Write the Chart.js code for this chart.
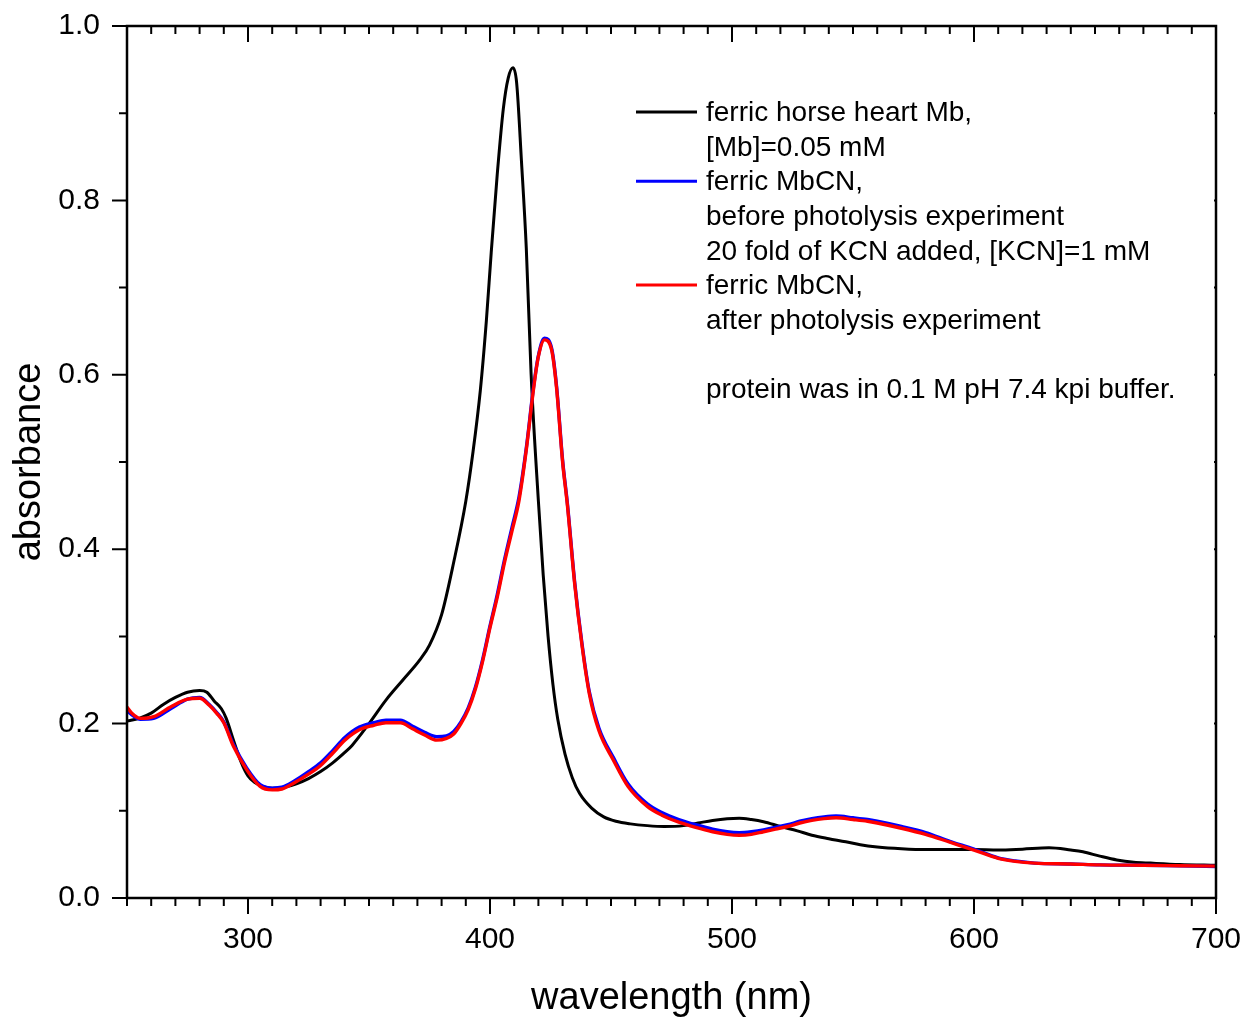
<!DOCTYPE html>
<html>
<head>
<meta charset="utf-8">
<script src="https://cdn.jsdelivr.net/npm/chart.js@4.4.1/dist/chart.umd.min.js"></script>
<style>
  html, body {margin: 0; padding: 0; background: #fff;}
  canvas {display: block;}
</style>
</head>
<body>
<canvas id="grafico" width="1246" height="1018"></canvas>
<script>
// ferric horse heart Mb
const wlMb = [250, 255, 260, 265, 270, 275, 280, 283, 286, 289, 291, 294, 297, 300, 303, 306, 310, 315, 320, 325, 330, 335, 340, 343, 350, 357, 364, 371, 375, 380, 385, 390, 393, 396, 398.5, 400.5, 403, 405.5, 407.5, 409.5, 411, 413, 415, 417, 420, 422, 424, 426, 428, 431, 434, 437, 442, 447, 452, 458, 465, 472, 480, 486, 492, 498, 503, 508, 513, 520, 527, 533, 540, 547, 553, 560, 570, 580, 590, 600, 610, 620, 631, 640, 645, 652, 659, 666, 673, 685, 700];
const absMb = [0.203, 0.206, 0.212, 0.222, 0.230, 0.236, 0.238, 0.236, 0.226, 0.217, 0.206, 0.181, 0.157, 0.140, 0.132, 0.128, 0.126, 0.127, 0.131, 0.137, 0.145, 0.155, 0.167, 0.175, 0.200, 0.227, 0.250, 0.273, 0.290, 0.325, 0.385, 0.455, 0.512, 0.582, 0.662, 0.740, 0.830, 0.905, 0.940, 0.952, 0.935, 0.845, 0.745, 0.600, 0.455, 0.370, 0.300, 0.245, 0.205, 0.165, 0.138, 0.120, 0.103, 0.093, 0.088, 0.085, 0.083, 0.082, 0.083, 0.086, 0.089, 0.091, 0.0915, 0.090, 0.0875, 0.082, 0.077, 0.072, 0.068, 0.0645, 0.061, 0.0585, 0.0565, 0.0555, 0.0555, 0.0555, 0.055, 0.056, 0.0575, 0.055, 0.053, 0.048, 0.0436, 0.041, 0.040, 0.0385, 0.0375];

// ferric MbCN, before / after photolysis
const wlCN = [250, 252, 255.5, 261, 268, 275, 280, 284, 287, 290, 294, 299.5, 305, 310, 314, 319, 325, 330, 335, 340, 346, 352, 357, 363, 368, 373, 378, 382, 385, 388, 391, 394, 397, 400, 403, 406, 409, 412, 415, 418, 420, 422.5, 425.5, 427.5, 430, 432, 435, 438, 441, 445, 451, 457, 465, 471, 478, 485, 492, 498, 503, 508, 513, 518, 523, 528, 533, 538, 543, 550, 556, 560, 570, 580, 590, 600, 610, 617, 625, 640, 652, 670, 685, 700];
const absBefore = [0.215, 0.210, 0.205, 0.206, 0.217, 0.228, 0.230, 0.222, 0.213, 0.202, 0.176, 0.149, 0.130, 0.126, 0.127, 0.134, 0.145, 0.155, 0.169, 0.184, 0.196, 0.201, 0.204, 0.204, 0.197, 0.190, 0.185, 0.186, 0.191, 0.202, 0.218, 0.242, 0.274, 0.312, 0.348, 0.388, 0.424, 0.460, 0.516, 0.586, 0.622, 0.642, 0.630, 0.587, 0.502, 0.452, 0.362, 0.292, 0.237, 0.195, 0.161, 0.131, 0.108, 0.098, 0.090, 0.084, 0.079, 0.076, 0.075, 0.076, 0.078, 0.081, 0.084, 0.088, 0.091, 0.093, 0.094, 0.092, 0.090, 0.088, 0.082, 0.075, 0.065, 0.056, 0.046, 0.0425, 0.040, 0.039, 0.038, 0.0375, 0.0368, 0.0362];
const absAfter = [0.219, 0.212, 0.206, 0.208, 0.219, 0.228, 0.229, 0.221, 0.212, 0.201, 0.174, 0.147, 0.128, 0.124, 0.125, 0.132, 0.142, 0.152, 0.166, 0.181, 0.193, 0.198, 0.201, 0.201, 0.194, 0.187, 0.181, 0.183, 0.188, 0.200, 0.216, 0.240, 0.272, 0.310, 0.345, 0.385, 0.420, 0.456, 0.514, 0.584, 0.621, 0.640, 0.628, 0.585, 0.500, 0.450, 0.360, 0.290, 0.235, 0.192, 0.158, 0.128, 0.105, 0.095, 0.087, 0.081, 0.076, 0.073, 0.072, 0.073, 0.076, 0.079, 0.082, 0.086, 0.089, 0.091, 0.092, 0.090, 0.088, 0.086, 0.080, 0.073, 0.064, 0.055, 0.0455, 0.042, 0.040, 0.039, 0.038, 0.0375, 0.037, 0.0365];

const labelMb = ['ferric horse heart Mb,', '[Mb]=0.05 mM'];
const labelBefore = ['ferric MbCN,', 'before photolysis experiment', '20 fold of KCN added, [KCN]=1 mM'];
const labelAfter = ['ferric MbCN,', 'after photolysis experiment'];
const nota = 'protein was in 0.1 M pH 7.4 kpi buffer.';

const fuente = "'Liberation Sans', Arial, Helvetica, sans-serif";
const puntos = (xs, ys) => xs.map((x, i) => ({x: x, y: ys[i]}));

// marco y marcas de las escalas
const marcoPlugin = {
  id: 'marco',
  afterDatasetsDraw(chart) {
    const {ctx, chartArea: a, scales: {x, y}} = chart;
    ctx.save();
    ctx.strokeStyle = '#000';
    ctx.lineWidth = 2;
    ctx.beginPath();
    for (let v = 250; v <= 700; v += 10) {
      const px = x.getPixelForValue(v);
      const len = v % 100 === 0 ? 16 : 8;
      ctx.moveTo(px, a.bottom); ctx.lineTo(px, a.bottom + len);
      ctx.moveTo(px, a.top); ctx.lineTo(px, a.top + len);
    }
    for (let i = 0; i <= 10; i++) {
      const py = y.getPixelForValue(i / 10);
      const len = i % 2 === 0 ? 15 : 8;
      ctx.moveTo(a.left - len, py); ctx.lineTo(a.left, py);
      ctx.moveTo(a.right - 2, py); ctx.lineTo(a.right, py);
    }
    ctx.stroke();
    ctx.lineWidth = 2.5;
    ctx.strokeRect(a.left, a.top, a.right - a.left, a.bottom - a.top);
    ctx.restore();
  }
};

// leyenda con texto en varias lineas
const leyendaPlugin = {
  id: 'leyenda',
  afterDraw(chart) {
    const ctx = chart.ctx;
    const filas = [
      {color: '#000000', texto: labelMb},
      {color: '#0000ff', texto: labelBefore},
      {color: '#ff0000', texto: labelAfter},
      {color: null, texto: ['', nota]}
    ];
    const x0 = 636, x1 = 697, xt = 706, paso = 34.6;
    let yy = 112;
    ctx.save();
    ctx.font = '28px ' + fuente;
    ctx.fillStyle = '#000';
    ctx.textBaseline = 'middle';
    ctx.textAlign = 'left';
    filas.forEach(f => {
      if (f.color) {
        ctx.strokeStyle = f.color;
        ctx.lineWidth = 3;
        ctx.beginPath();
        ctx.moveTo(x0, yy); ctx.lineTo(x1, yy);
        ctx.stroke();
      }
      f.texto.forEach(t => {
        if (t) ctx.fillText(t, xt, yy + 1.5);
        yy += paso;
      });
    });
    ctx.restore();
  }
};

new Chart(document.getElementById('grafico'), {
  type: 'line',
  data: {
    datasets: [
      {label: labelAfter.join(' '), data: puntos(wlCN, absAfter), borderColor: '#ff0000', borderWidth: 3.4, order: 0},
      {label: labelBefore.join(' '), data: puntos(wlCN, absBefore), borderColor: '#0000ff', borderWidth: 3.4, order: 1},
      {label: labelMb.join(' '), data: puntos(wlMb, absMb), borderColor: '#000000', borderWidth: 3, order: 2}
    ]
  },
  options: {
    responsive: false,
    animation: false,
    parsing: false,
    elements: {point: {radius: 0}, line: {cubicInterpolationMode: 'monotone', fill: false}},
    layout: {padding: {top: 26, right: 30, left: 0, bottom: 0}},
    plugins: {legend: {display: false}, tooltip: {enabled: false}},
    scales: {
      x: {
        type: 'linear', min: 250, max: 700,
        grid: {display: false, drawTicks: false},
        border: {display: false},
        ticks: {stepSize: 100, includeBounds: false, padding: 24, color: '#000', font: {family: fuente, size: 30}},
        title: {display: true, text: 'wavelength (nm)', color: '#000', font: {family: fuente, size: 38}, padding: {top: 0, bottom: -3}},
        afterFit: s => { s.height = 120; s.paddingLeft = 0; s.paddingRight = 0; }
      },
      y: {
        min: 0, max: 1,
        grid: {display: false, drawTicks: false},
        border: {display: false},
        ticks: {stepSize: 0.2, padding: 27, color: '#000', font: {family: fuente, size: 30}, callback: v => v.toFixed(1)},
        title: {display: true, text: 'absorbance', color: '#000', font: {family: fuente, size: 38}, padding: {top: 7, bottom: 0}},
        afterFit: s => { s.width = 127; s.paddingTop = 0; s.paddingBottom = 0; }
      }
    }
  },
  plugins: [marcoPlugin, leyendaPlugin]
});
</script>
</body>
</html>
